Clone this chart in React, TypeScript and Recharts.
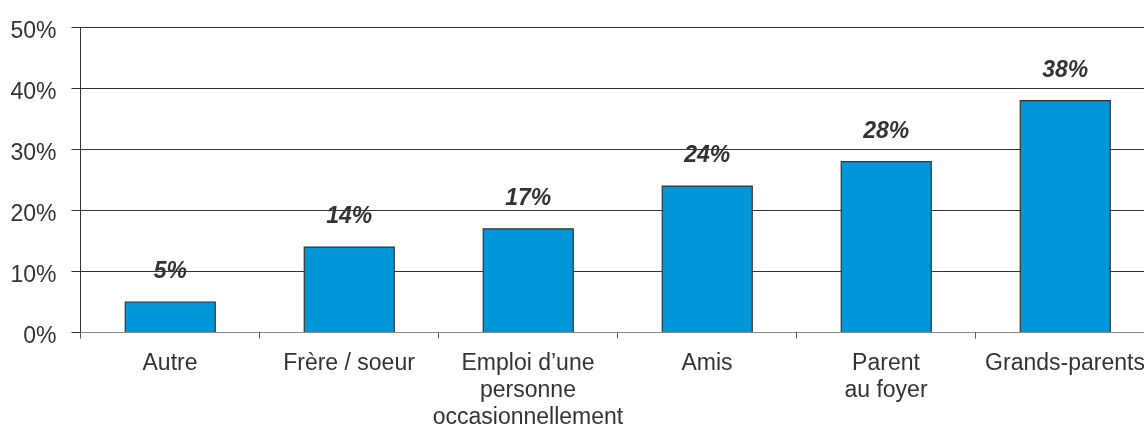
import { Bar, BarChart, CartesianGrid, LabelList, XAxis, YAxis } from "recharts"

// who looks after the children — share of answers
const categories = [
  "Autre",
  "Frère / soeur",
  "Emploi d’une\npersonne\noccasionnellement",
  "Amis",
  "Parent\nau foyer",
  "Grands-parents",
]
const shares = [5, 14, 17, 24, 28, 38]
const yTicks = [0, 10, 20, 30, 40, 50]

const data = categories.map((name, i) => ({ name, share: shares[i] }))

const FONT = "'Liberation Sans', Arial, sans-serif"
const TEXT = "#333333"

// half-pixel margins keep the 1px grid and axis lines on whole pixel rows
const CHART_W = 1156.5
const CHART_H = 418
const MARGIN = { top: 19.5, right: 10, bottom: 0, left: 0 }
const Y_AXIS_W = 72.5
const X_AXIS_H = 93.5
const PLOT_BOTTOM = CHART_H - MARGIN.bottom - X_AXIS_H
const BAND = (CHART_W - MARGIN.left - MARGIN.right - Y_AXIS_W) / categories.length

function CategoryTick(props: any) {
  const { x, payload } = props
  const lines = String(payload.value).split("\n")
  const left = x - BAND / 2
  return (
    <g>
      <line x1={left} x2={left} y1={PLOT_BOTTOM} y2={PLOT_BOTTOM + 6} stroke="#555" />
      <text x={x} y={PLOT_BOTTOM + 37} textAnchor="middle" fill={TEXT} fontSize={23} fontFamily={FONT}>
        {lines.map((l, i) => (
          <tspan key={i} x={x} dy={i === 0 ? 0 : 27}>
            {l}
          </tspan>
        ))}
      </text>
    </g>
  )
}

function ValueLabel(props: any) {
  const { x, y, width, value } = props
  return (
    <text
      x={x + width / 2}
      y={y - 24}
      textAnchor="middle"
      fill={TEXT}
      fontSize={23}
      fontWeight="bold"
      fontStyle="italic"
      fontFamily={FONT}
    >
      {value}%
    </text>
  )
}

export default function App() {
  return (
    <div style={{ position: "fixed", left: 8, top: 8, width: 1136, height: CHART_H, overflow: "hidden" }}>
      <BarChart width={CHART_W} height={CHART_H} data={data} margin={MARGIN} barCategoryGap="25%">
        <CartesianGrid vertical={false} stroke="#333" />
        <YAxis
          width={Y_AXIS_W}
          domain={[0, 50]}
          ticks={yTicks}
          interval={0}
          tickFormatter={(v) => `${v}%`}
          tickSize={9}
          tickMargin={15}
          axisLine={{ stroke: "#333" }}
          tickLine={{ stroke: "#333" }}
          tick={{ fill: TEXT, fontSize: 23, fontFamily: FONT, dy: 2 }}
        />
        <XAxis
          dataKey="name"
          height={X_AXIS_H}
          interval={0}
          axisLine={{ stroke: "#888" }}
          tickLine={false}
          tick={<CategoryTick />}
        />
        <Bar dataKey="share" fill="#0096D8" stroke="#333" strokeWidth={1.2} isAnimationActive={false}>
          <LabelList dataKey="share" content={<ValueLabel />} />
        </Bar>
      </BarChart>
    </div>
  )
}
